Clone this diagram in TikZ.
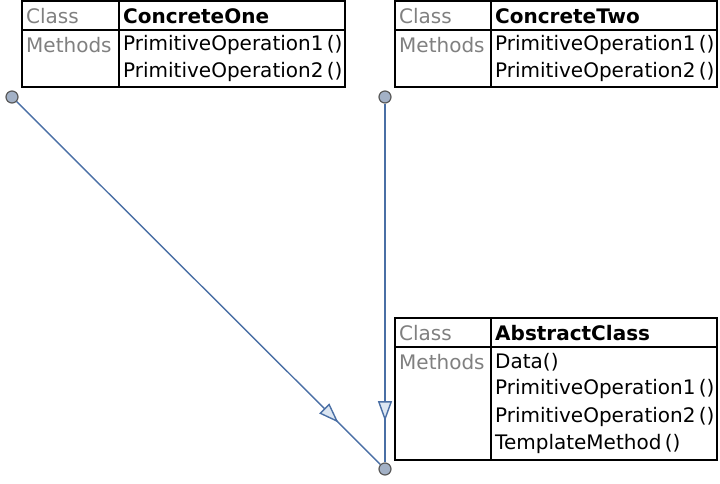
\documentclass[tikz,border=0pt]{standalone}
\usepackage{fontspec}
\setmainfont{DejaVu Sans}
\usetikzlibrary{arrows.meta,decorations.markings}
\definecolor{edgeblue}{HTML}{4A6FA5}
\definecolor{portfill}{HTML}{A3B1C6}
\definecolor{tipfill}{HTML}{DCE6F2}

\begin{document}
\begin{tikzpicture}[x=1pt,y=-1pt,
  every node/.style={font=\fontsize{20}{22}\selectfont, inner sep=2pt, anchor=west},
  tbl/.style={draw=black, line width=1.8pt},
  lbl/.style={text=gray},
  cname/.style={font=\fontsize{20}{22}\selectfont\bfseries},
  port/.style={circle, draw=black!65, fill=portfill, line width=1.2pt, minimum size=12pt, inner sep=0pt, anchor=center},
  inherit/.style={draw=edgeblue, line width=1.4pt, postaction={decorate},
    decoration={markings, mark=at position 0.885 with {\arrow{Triangle[length=20pt,width=14pt,fill=tipfill]}}}}]
  \useasboundingbox (0,0) rectangle (720,484);
  % ConcreteOne
  \draw[tbl] (22,1) rectangle (345,87) (119,1) -- (119,87) (22,30) -- (345,30);
  \path (24,16) node[lbl] (oneCls){Class} (121,16) node[cname] (oneName){ConcreteOne}
    (24,45) node[lbl] (oneMeth){Methods}
    (121,45) node (oneOpA){PrimitiveOperation1\,()} (121,72) node (oneOpB){PrimitiveOperation2\,()};
  % ConcreteTwo
  \draw[tbl] (395,1) rectangle (717,87) (491,1) -- (491,87) (395,30) -- (717,30);
  \path (397,16) node[lbl] (twoCls){Class} (493,16) node[cname] (twoName){ConcreteTwo}
    (397,45) node[lbl] (twoMeth){Methods}
    (493,45) node (twoOpA){PrimitiveOperation1\,()} (493,72) node (twoOpB){PrimitiveOperation2\,()};
  % AbstractClass
  \draw[tbl] (395,318) rectangle (717,460) (491,318) -- (491,460) (395,347) -- (717,347);
  \path (397,333) node[lbl] (absCls){Class} (493,333) node[cname] (absName){AbstractClass}
    (397,362) node[lbl] (absMeth){Methods}
    (493,362) node (absData){Data()}
    (493,389) node (absOpA){PrimitiveOperation1\,()} (493,417) node (absOpB){PrimitiveOperation2\,()}
    (493,444) node (absTpl){TemplateMethod\,()};
  % ports
  \node[port] (oneP) at (12,97) {};
  \node[port] (twoP) at (385,97) {};
  \node[port] (absP) at (385,469) {};
  \draw[inherit] (oneP) -- (absP);
  \draw[inherit] (twoP) -- (absP);
\end{tikzpicture}
\end{document}
